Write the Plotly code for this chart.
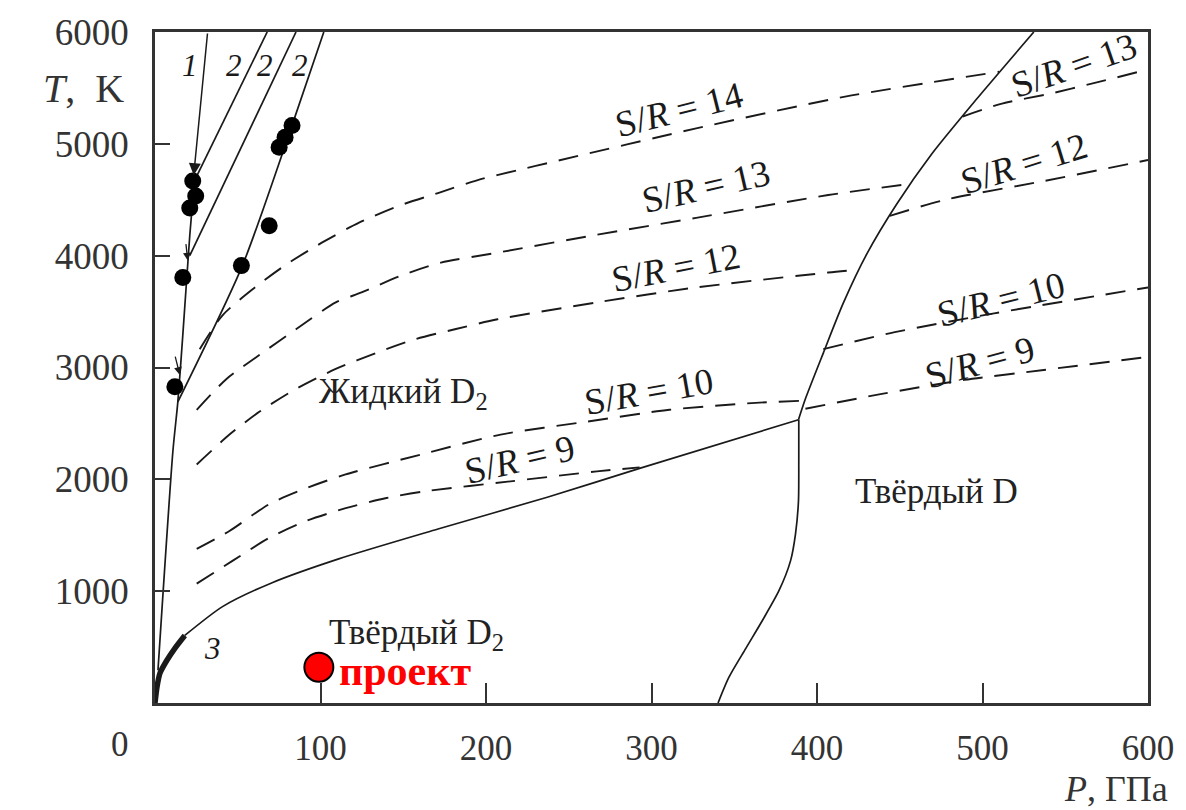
import plotly.graph_objects as go

# ---------------- data (P in GPa, T in K) ----------------
# thick curve "3"
c3_P = [0, 1.2, 3, 7.2, 12, 18]
c3_T = [0, 142, 267, 382, 489, 604]

# melting line solid D2 / liquid D2
melt_P = [18, 40.8, 70.8, 111, 171, 237, 292.8, 388.8]
melt_T = [604, 862, 1076, 1289, 1556, 1840, 2098, 2533]

# steep experimental melting line at low P
steep_P = [1.8, 10.8, 13.8, 16.8, 21, 24]
steep_T = [293, 2249, 2693, 3289, 4178, 4711]

# lines "2"
l2a_P = [25.2, 67.8]
l2a_T = [4711, 6000]
l2b_P = [21, 85.2]
l2b_T = [4000, 6000]
l2c_P = [13.8, 52.8, 82.8, 102]
l2c_T = [2693, 3911, 5165, 6000]

# line "1" (arrow)
l1_P = [31.8, 23.4]
l1_T = [6000, 4720]

# small arrows near the low-pressure points (tail P, tail T, head P, head T)
sa_tail_P = [18.6, 12.0]
sa_tail_T = [4116, 3111]
sa_head_P = [19.8, 15.0]
sa_head_T = [3956, 2933]

# solid D2 / solid D boundary
sd_P = [340.2, 346.8, 357, 367, 377, 384, 387, 388.8, 389, 389]
sd_T = [0, 231, 489, 738, 1004, 1271, 1511, 1804, 2160, 2533]

# liquid / solid D boundary
ld_P = [388.8, 393, 403.8, 415.8, 430.2, 448.2, 469.2, 496.2, 531]
ld_T = [2533, 2720, 3129, 3573, 4018, 4462, 4907, 5396, 6000]

# isentropes in liquid D2
s14_P = [27, 40.8, 58.8, 79.2, 100.8, 123, 147, 171, 195, 219, 237, 327, 417, 510]
s14_T = [3164, 3467, 3698, 3920, 4116, 4293, 4444, 4560, 4676, 4764, 4827, 5138, 5422, 5644]
s13_P = [25.2, 43.2, 63, 85.2, 109.2, 124.8, 148.8, 172.8, 207, 267, 327, 406.8, 455]
s13_T = [2622, 2898, 3111, 3342, 3582, 3671, 3822, 3938, 4027, 4187, 4338, 4542, 4640]
s12_P = [25.2, 45, 63, 85.2, 109.2, 135, 157.2, 181.2, 207, 267, 327, 406.8, 422]
s12_T = [2133, 2400, 2604, 2809, 2987, 3138, 3253, 3342, 3431, 3582, 3716, 3849, 3870]
s10_P = [25.2, 45, 69, 91.2, 115.2, 160.8, 208.8, 261, 310.8, 363, 390]
s10_T = [1378, 1538, 1778, 1920, 2044, 2222, 2400, 2516, 2622, 2684, 2702]
s9_P = [25.2, 46.8, 69, 91.2, 115.2, 139.2, 163.2, 214.8, 267, 292.8]
s9_T = [1067, 1271, 1476, 1627, 1742, 1831, 1893, 1982, 2071, 2107]

# isentropes in solid D
r13_P = [488, 511.8, 541, 566, 600]
r13_T = [5244, 5360, 5449, 5538, 5665]
r12_P = [444, 477, 537, 600]
r12_T = [4356, 4498, 4667, 4855]
r10_P = [403.8, 447, 507, 600]
r10_T = [3164, 3316, 3484, 3716]
r9_P = [393, 439.2, 489, 537, 600]
r9_T = [2631, 2764, 2889, 2978, 3095]

# experimental points
dots_P = [22.8, 24.6, 21, 16.8, 12, 82.8, 78.6, 75, 69, 52.2]
dots_T = [4667, 4533, 4427, 3804, 2827, 5164, 5058, 4969, 4267, 3911]

# project point
proj_P = [99]
proj_T = [320]

# labels
sr_labels = ["S/<i>R</i> = 14", "S/<i>R</i> = 13", "S/<i>R</i> = 12", "S/<i>R</i> = 10", "S/<i>R</i> = 9",
             "S/<i>R</i> = 13", "S/<i>R</i> = 12", "S/<i>R</i> = 10", "S/<i>R</i> = 9"]
sr_lab_P = [316.8, 333, 315, 298.2, 220.2, 555, 525, 511, 498]
sr_lab_T = [5306, 4622, 3893, 2782, 2178, 5698, 4827, 3609, 3049]
sr_lab_ang = [-14, -13, -11, -10, -13, -19, -17, -14, -15]

region_labels = ["Жидкий D<sub>2</sub>", "Твёрдый D<sub>2</sub>", "Твёрдый D"]
region_P = [150, 157.8, 472.2]
region_T = [2764, 610, 1893]

num_labels = ["1", "2", "2", "2", "3"]
num_P = [21, 48, 66.6, 87.6, 34.8]
num_T = [5698, 5698, 5698, 5698, 489]

x_ticks = [100, 200, 300, 400, 500, 600]
y_ticks = [1000, 2000, 3000, 4000, 5000, 6000]

SERIF = "Liberation Serif, Times New Roman, serif"
LC = "#1a1a1a"
DASH = "20px,12px"

fig = go.Figure()

def solid(P, T, w=1.7):
    fig.add_trace(go.Scatter(x=P, y=T, mode="lines", line=dict(color=LC, width=w, shape="spline", smoothing=0.7),
                             hoverinfo="skip", showlegend=False))

def dashed(P, T):
    fig.add_trace(go.Scatter(x=P, y=T, mode="lines", line=dict(color=LC, width=1.9, dash=DASH, shape="spline", smoothing=0.7),
                             hoverinfo="skip", showlegend=False))

for P, T in [(s14_P, s14_T), (s13_P, s13_T), (s12_P, s12_T), (s10_P, s10_T), (s9_P, s9_T),
             (r13_P, r13_T), (r12_P, r12_T), (r10_P, r10_T), (r9_P, r9_T)]:
    dashed(P, T)

for P, T in [(melt_P, melt_T), (steep_P, steep_T), (l2a_P, l2a_T), (l2b_P, l2b_T), (l2c_P, l2c_T),
             (sd_P, sd_T), (ld_P, ld_T)]:
    solid(P, T)

solid(c3_P, c3_T, w=5.5)

fig.add_trace(go.Scatter(x=dots_P, y=dots_T, mode="markers",
                         marker=dict(color="black", size=17), hoverinfo="skip", showlegend=False))
fig.add_trace(go.Scatter(x=proj_P, y=proj_T, mode="markers",
                         marker=dict(color="#ff0000", size=29, line=dict(color="black", width=2)),
                         hoverinfo="skip", showlegend=False))

ann = []
# arrow "1"
ann.append(dict(x=l1_P[1], y=l1_T[1], ax=l1_P[0], ay=l1_T[0], xref="x", yref="y", axref="x", ayref="y",
                showarrow=True, arrowhead=2, arrowsize=1.6, arrowwidth=1.5, arrowcolor=LC, text=""))
for tp, tt, hp, ht in zip(sa_tail_P, sa_tail_T, sa_head_P, sa_head_T):
    ann.append(dict(x=hp, y=ht, ax=tp, ay=tt, xref="x", yref="y", axref="x", ayref="y",
                    showarrow=True, arrowhead=2, arrowsize=1.2, arrowwidth=1.3, arrowcolor=LC, text=""))

for t, P, T, a in zip(sr_labels, sr_lab_P, sr_lab_T, sr_lab_ang):
    ann.append(dict(x=P, y=T, xref="x", yref="y", text=t, showarrow=False, textangle=a,
                    font=dict(family=SERIF, size=37, color=LC)))
for t, P, T in zip(region_labels, region_P, region_T):
    ann.append(dict(x=P, y=T, xref="x", yref="y", text=t, showarrow=False,
                    font=dict(family=SERIF, size=35, color="#222")))
for t, P, T in zip(num_labels, num_P, num_T):
    ann.append(dict(x=P, y=T, xref="x", yref="y", text="<i>" + t + "</i>", showarrow=False,
                    font=dict(family=SERIF, size=31, color=LC)))

ann.append(dict(x=proj_P[0] + 11, y=proj_T[0] - 30, xref="x", yref="y", text="<b>проект</b>", showarrow=False,
                xanchor="left", yanchor="middle", font=dict(family=SERIF, size=42, color="#ff0000")))

# axis titles and lone "0"
ann.append(dict(x=-0.072, y=0.916, xref="paper", yref="paper", text="<i>T</i>,  K", showarrow=False,
                xanchor="center", yanchor="middle", font=dict(family=SERIF, size=40, color="#333")))
ann.append(dict(x=0.968, y=-0.128, xref="paper", yref="paper", text="<i>P</i>, ГПа", showarrow=False,
                xanchor="center", yanchor="middle", font=dict(family=SERIF, size=36, color="#333")))
ann.append(dict(x=-0.035, y=-0.062, xref="paper", yref="paper", text="0", showarrow=False,
                xanchor="center", yanchor="middle", font=dict(family=SERIF, size=35, color="#333")))

fig.update_layout(
    width=1186, height=810,
    margin=dict(l=155, r=31, t=28, b=107),
    plot_bgcolor="white", paper_bgcolor="white",
    annotations=ann,
    showlegend=False,
)
fig.update_xaxes(range=[0, 600], tickvals=x_ticks, ticks="inside", ticklen=20, tickwidth=1.5, tickcolor="#333",
                 showgrid=False, zeroline=False, showline=True, linecolor="#333", linewidth=2.5, mirror=True,
                 ticklabelstandoff=12, tickfont=dict(family=SERIF, size=35, color="#333"))
fig.update_yaxes(range=[0, 6000], tickvals=y_ticks, ticks="inside", ticklen=15, tickwidth=1.5, tickcolor="#333",
                 showgrid=False, zeroline=False, showline=True, linecolor="#333", linewidth=2.5, mirror=True,
                 ticklabelstandoff=16, tickfont=dict(family=SERIF, size=37, color="#333"))

fig.write_html("out.html")
